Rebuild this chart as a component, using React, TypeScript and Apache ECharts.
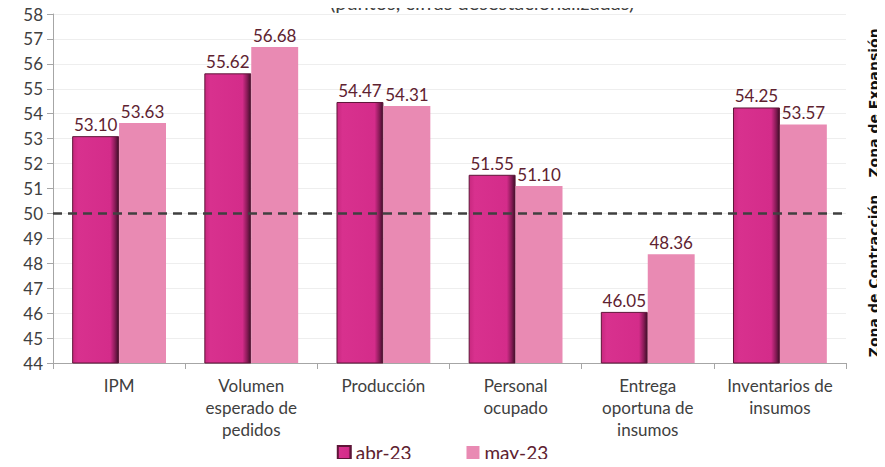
import React, { useEffect, useRef } from "react";
import * as echarts from "echarts";

const categories = [
  "IPM",
  "Volumen\nesperado de\npedidos",
  "Producción",
  "Personal\nocupado",
  "Entrega\noportuna de\ninsumos",
  "Inventarios de\ninsumos",
];
const abr23 = [53.1, 55.62, 54.47, 51.55, 46.05, 54.25];
const may23 = [53.63, 56.68, 54.31, 51.1, 48.36, 53.57];
const threshold = 50;
const seriesNames = ["abr-23", "may-23"];
const yMin = 44;
const yMax = 58;

const FONT = "Lato, 'Open Sans', sans-serif";

export default function App() {
  const ref = useRef<HTMLDivElement>(null);
  useEffect(() => {
    if (!ref.current) return;
    const chart = echarts.init(ref.current, null, { renderer: "svg" });
    const abrColor = new echarts.graphic.LinearGradient(0, 0, 1, 0, [
      { offset: 0, color: "#c8287f" },
      { offset: 0.12, color: "#d8318e" },
      { offset: 0.82, color: "#d42c8a" },
      { offset: 0.92, color: "#8a1b58" },
      { offset: 1, color: "#3e0f28" },
    ]);
    const labelCfg = {
      show: true,
      position: "top",
      distance: 3,
      fontSize: 17,
      color: "#5e2230",
      formatter: (p: any) => p.value.toFixed(2),
      fontFamily: FONT,
    };
    const zoneStyle = {
      fontSize: 14,
      fontWeight: "bold",
      fill: "#111",
      align: "center",
      verticalAlign: "middle",
      fontFamily: "'DejaVu Sans', sans-serif",
    };
    chart.setOption({
      animation: false,
      textStyle: { fontFamily: FONT },
      grid: { left: 53, right: 39, top: 14, bottom: 104, containLabel: false },
      legend: {
        bottom: 0,
        left: "center",
        itemWidth: 13,
        itemHeight: 13,
        itemGap: 55,
        icon: "rect",
        textStyle: { fontSize: 19, color: "#5e2230", fontFamily: FONT },
        data: seriesNames,
      },
      graphic: [
        {
          type: "text",
          left: 330,
          top: -8,
          style: {
            text: "(puntos, cifras desestacionalizadas)",
            fontSize: 20,
            fill: "#404040",
            fontFamily: FONT,
          },
        },
        {
          type: "text",
          x: 874,
          y: 103,
          rotation: Math.PI / 2,
          style: { ...zoneStyle, text: "Zona de Expansión" },
        },
        {
          type: "text",
          x: 874,
          y: 276,
          rotation: Math.PI / 2,
          style: { ...zoneStyle, text: "Zona de Contracción" },
        },
      ],
      xAxis: {
        type: "category",
        data: categories,
        axisLine: { lineStyle: { color: "#a6a6a6" } },
        axisTick: { show: true, length: 6, lineStyle: { color: "#a6a6a6" } },
        axisLabel: {
          fontSize: 17,
          color: "#404040",
          lineHeight: 22,
          margin: 11,
          interval: 0,
          fontFamily: FONT,
        },
      },
      yAxis: {
        type: "value",
        min: yMin,
        max: yMax,
        interval: 1,
        axisLine: { show: true, lineStyle: { color: "#a6a6a6" } },
        axisTick: { show: true, length: 6, lineStyle: { color: "#a6a6a6" } },
        splitLine: { lineStyle: { color: "#eeeeee" } },
        axisLabel: { fontSize: 17, color: "#404040", margin: 10, fontFamily: FONT },
      },
      series: [
        {
          name: seriesNames[0],
          type: "bar",
          data: abr23,
          barGap: "0%",
          barCategoryGap: "29%",
          itemStyle: { color: abrColor, borderColor: "#5e1538", borderWidth: 1 },
          label: labelCfg,
          markLine: {
            symbol: "none",
            silent: true,
            label: { show: false },
            lineStyle: { color: "#404040", type: [9, 6], width: 2.5 },
            data: [{ yAxis: threshold }],
          },
        },
        {
          name: seriesNames[1],
          type: "bar",
          data: may23,
          itemStyle: { color: "#e98ab3" },
          label: labelCfg,
        },
      ],
    });
    return () => chart.dispose();
  }, []);
  return <div ref={ref} style={{ width: 885, height: 467, margin: -8 }} />;
}
